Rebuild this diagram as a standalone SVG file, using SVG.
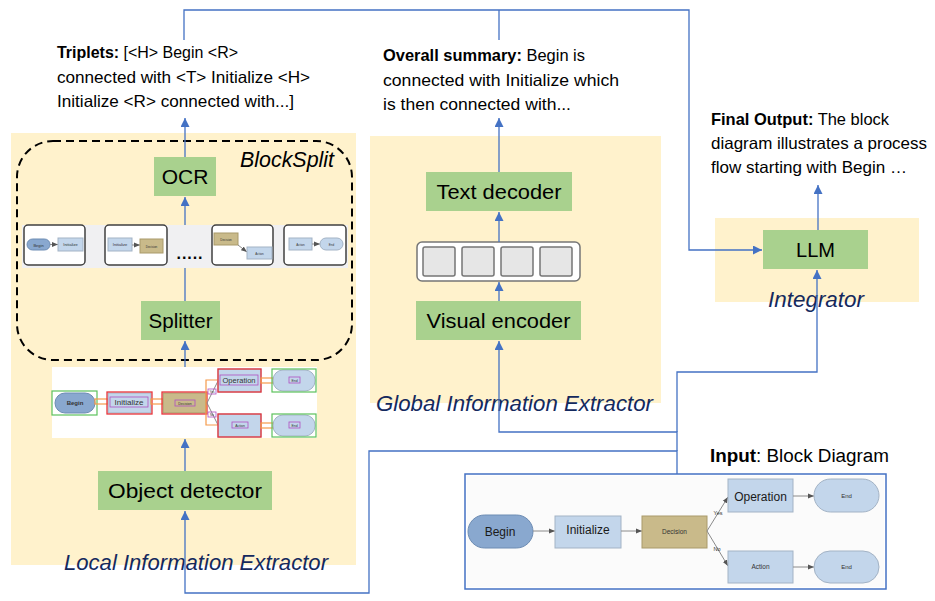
<svg xmlns="http://www.w3.org/2000/svg" width="935" height="601" viewBox="0 0 935 601">
<style>
.panel{fill:#FFF2CC}
.box{fill:#A9D18E}
.lbl{font-family:"Liberation Sans",Arial,sans-serif;font-size:21px;fill:#000;text-anchor:middle}
.ital{font-family:"Liberation Sans",Arial,sans-serif;font-style:italic;font-size:22px;fill:#14295E}
.txt{font-family:"Liberation Sans",Arial,sans-serif;font-size:16.5px;fill:#000}
.b{font-weight:bold}
.conn{fill:none;stroke:#4472C4;stroke-width:1.3}
.thumb{fill:#fff;stroke:#404040;stroke-width:1.5}
.lb{fill:#C3D6EB;stroke:#A3B3C5;stroke-width:1}
.db{fill:#89A8CF;stroke:#6D8CB3;stroke-width:1}
.kh{fill:#C9BA8A;stroke:#A99A6A;stroke-width:1}
.gl{fill:none;stroke:#8A8A8A;stroke-width:1}
.tiny{font-family:"Liberation Sans",Arial,sans-serif;fill:#333;text-anchor:middle}
.red{fill:none;stroke:#E8343A;stroke-width:1.3}
.grn{fill:none;stroke:#5CC15C;stroke-width:1.2}
.pur{fill:none;stroke:#B050C0;stroke-width:0.8}
.org{fill:none;stroke:#F59A4A;stroke-width:1.2}
</style>
<defs>
<marker id="ah" viewBox="0 0 10 10" refX="10" refY="5" markerWidth="9" markerHeight="9" markerUnits="userSpaceOnUse" orient="auto">
<path d="M0,0 L10,5 L0,10 z" fill="#4472C4"/>
</marker>
<marker id="gah" viewBox="0 0 10 10" refX="10" refY="5" markerWidth="6" markerHeight="6" markerUnits="userSpaceOnUse" orient="auto">
<path d="M0,1 L10,5 L0,9 z" fill="#555"/>
</marker>
</defs>

<!-- Panels -->
<g id="local-panel">
<rect class="panel" x="11" y="133" width="345" height="432"/>
<text class="ital" x="64" y="570" textLength="264" lengthAdjust="spacingAndGlyphs">Local Information Extractor</text>
</g>
<g id="global-panel">
<rect class="panel" x="370" y="136" width="291" height="267"/>
<text class="ital" x="376" y="411" textLength="277" lengthAdjust="spacingAndGlyphs">Global Information Extractor</text>
</g>
<g id="integrator-panel">
<rect class="panel" x="715" y="218" width="204" height="84"/>
</g>

<!-- BlockSplit -->
<g id="blocksplit">
<rect x="17" y="141" width="335" height="219" rx="36" ry="36" fill="none" stroke="#000" stroke-width="2" stroke-dasharray="8,5"/>
<text class="ital" x="240" y="167" style="fill:#000" textLength="94" lengthAdjust="spacingAndGlyphs">BlockSplit</text>
</g>

<!-- Thumbnail strip -->
<g id="thumbnails">
<rect x="22" y="225" width="326" height="43" fill="#F0F0F2"/>
<rect class="thumb" x="24" y="225" width="61" height="40" rx="4"/>
<rect class="db" x="27" y="239" width="23" height="11" rx="5.5"/>
<text class="tiny" x="38.5" y="246.5" font-size="4">Begin</text>
<line class="gl" x1="50" y1="244.5" x2="58" y2="244.5" marker-end="url(#gah)"/>
<rect class="lb" x="58" y="238" width="25" height="13"/>
<text class="tiny" x="70.5" y="246" font-size="4">Initialize</text>

<rect class="thumb" x="105" y="225" width="62" height="40" rx="4"/>
<rect class="lb" x="108" y="238" width="24" height="13"/>
<text class="tiny" x="120" y="246" font-size="4">Initialize</text>
<line class="gl" x1="132" y1="245" x2="140" y2="245" marker-end="url(#gah)"/>
<rect class="kh" x="140" y="239" width="23" height="14"/>
<text class="tiny" x="151.5" y="247.5" font-size="3">Decision</text>

<text x="189.5" y="259" font-family="Liberation Sans,Arial,sans-serif" font-size="16" font-weight="bold" text-anchor="middle" fill="#000" textLength="26" lengthAdjust="spacing">.....</text>

<rect class="thumb" x="212" y="225" width="61" height="40" rx="4"/>
<rect class="kh" x="214" y="233" width="24" height="12"/>
<text class="tiny" x="226" y="240.5" font-size="3">Decision</text>
<line class="gl" x1="238" y1="245" x2="247" y2="252" marker-end="url(#gah)"/>
<rect class="lb" x="247" y="247" width="25" height="12"/>
<text class="tiny" x="259.5" y="254.5" font-size="3">Action</text>

<rect class="thumb" x="284" y="225" width="62" height="40" rx="4"/>
<rect class="lb" x="289" y="238" width="23" height="12"/>
<text class="tiny" x="300.5" y="245.5" font-size="3">Action</text>
<line class="gl" x1="312" y1="244" x2="320" y2="244" marker-end="url(#gah)"/>
<rect class="lb" x="320" y="238" width="23" height="12" rx="6"/>
<text class="tiny" x="331.5" y="245.5" font-size="3">End</text>
</g>

<!-- Detected diagram -->
<g id="detected-image">
<rect x="52" y="367" width="265" height="71" fill="#fff"/>
<rect class="db" x="55" y="393" width="40" height="20" rx="10"/>
<rect class="grn" x="52" y="391" width="45" height="24"/>
<text class="tiny" x="75" y="405" font-size="6" font-weight="bold">Begin</text>
<rect class="org" x="95" y="399" width="13" height="5"/>
<rect class="lb" x="108" y="393" width="43" height="20"/>
<rect class="red" x="107" y="392" width="45" height="22"/>
<rect class="pur" x="110" y="397" width="38" height="10"/>
<text class="tiny" x="129" y="405" font-size="8">Initialize</text>
<rect class="org" x="151" y="399" width="12" height="5"/>
<rect class="kh" x="163" y="393" width="43" height="20"/>
<rect class="red" x="162" y="392" width="45" height="22"/>
<rect class="pur" x="175" y="400" width="20" height="6"/>
<text class="tiny" x="185" y="404.5" font-size="3.5">Decision</text>
<path class="org" d="M218,380 H206 V425 H218"/>
<line class="gl" x1="207" y1="403" x2="218" y2="381"/>
<line class="gl" x1="207" y1="403" x2="218" y2="425"/>
<rect class="pur" x="208" y="389" width="8" height="5" fill="#fff"/>
<text class="tiny" x="212" y="393" font-size="3">Yes</text>
<rect class="pur" x="208" y="412" width="8" height="5"/>
<text class="tiny" x="212" y="416" font-size="3">No</text>
<rect class="lb" x="218" y="369" width="43" height="23"/>
<rect class="red" x="218" y="369" width="43" height="23"/>
<rect class="pur" x="220" y="375" width="38" height="10"/>
<text class="tiny" x="239" y="383" font-size="7.5">Operation</text>
<rect class="org" x="261" y="378" width="12" height="5"/>
<rect class="lb" x="273" y="370" width="42" height="21" rx="10"/>
<rect class="grn" x="272" y="369" width="44" height="23"/>
<rect class="pur" x="289" y="377" width="11" height="6"/>
<text class="tiny" x="294.5" y="381.5" font-size="3.5">End</text>
<rect class="lb" x="218" y="414" width="43" height="23"/>
<rect class="red" x="218" y="414" width="43" height="23"/>
<rect class="pur" x="232" y="422" width="16" height="6"/>
<text class="tiny" x="240" y="426.5" font-size="3.5">Action</text>
<rect class="org" x="261" y="423" width="12" height="5"/>
<rect class="lb" x="273" y="415" width="42" height="21" rx="10"/>
<rect class="grn" x="272" y="414" width="44" height="23"/>
<rect class="pur" x="289" y="422" width="11" height="6"/>
<text class="tiny" x="294.5" y="426.5" font-size="3.5">End</text>
</g>

<!-- Green nodes -->
<g id="ocr"><rect class="box" x="154" y="157" width="62" height="39"/><text class="lbl" x="185" y="184" font-size="22">OCR</text></g>
<g id="splitter"><rect class="box" x="141" y="301" width="79" height="39"/><text class="lbl" x="180.5" y="328" textLength="64" lengthAdjust="spacingAndGlyphs">Splitter</text></g>
<g id="object-detector"><rect class="box" x="98" y="471" width="174" height="39"/><text class="lbl" x="185" y="498" textLength="154" lengthAdjust="spacingAndGlyphs">Object detector</text></g>
<g id="text-decoder"><rect class="box" x="426" y="172" width="146" height="39"/><text class="lbl" x="499" y="199" textLength="125" lengthAdjust="spacingAndGlyphs">Text decoder</text></g>
<g id="visual-encoder"><rect class="box" x="416" y="301" width="165" height="39"/><text class="lbl" x="498.5" y="328" textLength="144" lengthAdjust="spacingAndGlyphs">Visual encoder</text></g>
<g id="llm"><rect class="box" x="763" y="230" width="105" height="39"/><text class="lbl" x="815.5" y="257" textLength="39" lengthAdjust="spacingAndGlyphs">LLM</text></g>
<g id="integrator-label"><text class="ital" x="768" y="307" textLength="96" lengthAdjust="spacingAndGlyphs">Integrator</text></g>

<!-- Token box -->
<g id="tokens">
<rect x="417" y="242" width="163" height="39" rx="5" fill="#fff" stroke="#767676" stroke-width="1.5"/>
<rect x="423" y="247" width="32" height="29" rx="2" fill="#E6E6E6" stroke="#767676" stroke-width="1.5"/>
<rect x="462" y="247" width="32" height="29" rx="2" fill="#E6E6E6" stroke="#767676" stroke-width="1.5"/>
<rect x="501" y="247" width="32" height="29" rx="2" fill="#E6E6E6" stroke="#767676" stroke-width="1.5"/>
<rect x="540" y="247" width="32" height="29" rx="2" fill="#E6E6E6" stroke="#767676" stroke-width="1.5"/>
</g>

<!-- Output texts -->
<g id="triplets">
<text class="txt" x="57" y="58" textLength="181" lengthAdjust="spacingAndGlyphs"><tspan class="b">Triplets:</tspan> [&lt;H&gt; Begin &lt;R&gt;</text>
<text class="txt" x="57" y="83" textLength="253" lengthAdjust="spacingAndGlyphs">connected with &lt;T&gt; Initialize &lt;H&gt;</text>
<text class="txt" x="57" y="107" textLength="237" lengthAdjust="spacingAndGlyphs">Initialize &lt;R&gt; connected with...]</text>
</g>
<g id="overall-summary">
<text class="txt" x="383" y="61" textLength="202" lengthAdjust="spacingAndGlyphs"><tspan class="b">Overall summary:</tspan> Begin is</text>
<text class="txt" x="383" y="86" textLength="236" lengthAdjust="spacingAndGlyphs">connected with Initialize which</text>
<text class="txt" x="383" y="110" textLength="188" lengthAdjust="spacingAndGlyphs">is then connected with...</text>
</g>
<g id="final-output">
<text class="txt" x="711" y="125" textLength="178" lengthAdjust="spacingAndGlyphs"><tspan class="b">Final Output:</tspan> The block</text>
<text class="txt" x="711" y="149" textLength="216" lengthAdjust="spacingAndGlyphs">diagram illustrates a process</text>
<text class="txt" x="711" y="173" textLength="196" lengthAdjust="spacingAndGlyphs">flow starting with Begin …</text>
</g>

<!-- Input -->
<g id="input">
<text x="710" y="462" font-family="Liberation Sans,Arial,sans-serif" font-size="18" fill="#000" textLength="179" lengthAdjust="spacingAndGlyphs"><tspan font-weight="bold">Input</tspan>: Block Diagram</text>
<rect x="465" y="474" width="421" height="115" fill="#fff" stroke="#4472C4" stroke-width="1.5"/>
<rect x="467" y="476" width="417" height="111" fill="#FBFBFB"/>
<rect class="db" x="468" y="515" width="65" height="33" rx="16.5"/>
<text class="tiny" x="500" y="536" font-size="12" style="fill:#1a1a1a">Begin</text>
<line class="gl" x1="533" y1="531" x2="555" y2="531" marker-end="url(#gah)"/>
<rect class="lb" x="555" y="516" width="66" height="32"/>
<text class="tiny" x="588" y="534" font-size="12" style="fill:#1a1a1a">Initialize</text>
<line class="gl" x1="621" y1="531" x2="642" y2="531" marker-end="url(#gah)"/>
<rect class="kh" x="642" y="516" width="65" height="32"/>
<text class="tiny" x="674.5" y="534" font-size="6.5">Decision</text>
<line class="gl" x1="707" y1="531" x2="728" y2="497" marker-end="url(#gah)"/>
<line class="gl" x1="707" y1="531" x2="728" y2="566" marker-end="url(#gah)"/>
<text class="tiny" x="718" y="515" font-size="5.5">Yes</text>
<text class="tiny" x="717" y="551" font-size="5.5">No</text>
<rect class="lb" x="728" y="479" width="65" height="33"/>
<text class="tiny" x="760.5" y="501" font-size="12" style="fill:#1a1a1a">Operation</text>
<line class="gl" x1="793" y1="496" x2="814" y2="496" stroke-width="1.5" marker-end="url(#gah)"/>
<rect class="lb" x="814" y="479" width="65" height="33" rx="16.5"/>
<text class="tiny" x="846.5" y="498" font-size="6">End</text>
<rect class="lb" x="728" y="551" width="65" height="32"/>
<text class="tiny" x="760.5" y="569" font-size="6.5">Action</text>
<line class="gl" x1="793" y1="567" x2="814" y2="567" stroke-width="1.5" marker-end="url(#gah)"/>
<rect class="lb" x="814" y="551" width="65" height="32" rx="16"/>
<text class="tiny" x="846.5" y="569" font-size="6">End</text>
</g>

<!-- Connectors -->
<g id="connectors">
<path class="conn" d="M184,40 V10 H689 V250 H762" marker-end="url(#ah)"/>
<path class="conn" d="M499,40 V10"/>
<path class="conn" d="M185,157 V118" marker-end="url(#ah)"/>
<path class="conn" d="M185,225 V197" marker-end="url(#ah)"/>
<path class="conn" d="M185,301 V268"/>
<path class="conn" d="M185,367 V341" marker-end="url(#ah)"/>
<path class="conn" d="M185,471 V439" marker-end="url(#ah)"/>
<path class="conn" d="M677,474 V451 H369 V593 H185 V511" marker-end="url(#ah)"/>
<path class="conn" d="M677,451 V432 H499 V341" marker-end="url(#ah)"/>
<path class="conn" d="M677,432 V372 H817 V270" marker-end="url(#ah)"/>
<path class="conn" d="M499,301 V282" marker-end="url(#ah)"/>
<path class="conn" d="M499,242 V212" marker-end="url(#ah)"/>
<path class="conn" d="M499,172 V118" marker-end="url(#ah)"/>
<path class="conn" d="M818,230 V185" marker-end="url(#ah)"/>
</g>
</svg>
